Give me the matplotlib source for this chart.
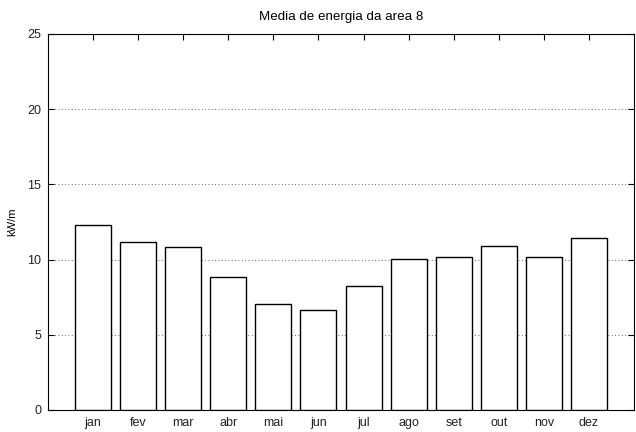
import matplotlib
matplotlib.use("Agg")
import matplotlib.pyplot as plt
import numpy as np

meses = ['jan', 'fev', 'mar', 'abr', 'mai', 'jun', 'jul', 'ago', 'set', 'out', 'nov', 'dez']
energia = [12.28, 11.15, 10.82, 8.86, 7.05, 6.65, 8.24, 10.04, 10.17, 10.88, 10.17, 11.41]
yticks = [0, 5, 10, 15, 20, 25]

plt.rcParams['font.family'] = ['Liberation Sans', 'DejaVu Sans']
plt.rcParams['font.size'] = 9

fig = plt.figure(figsize=(6.36, 4.32), dpi=100)
ax = fig.add_axes([48/636, 22/432, 586/636, 376/432])

x = np.arange(1, len(meses) + 1)
ax.bar(x, energia, width=0.8, color='white', edgecolor='black', linewidth=1.0, zorder=3)

ax.set_xlim(0, 13)
ax.set_ylim(0, 25)
ax.set_xticks(x)
ax.set_xticklabels(meses, color='#222222')
ax.set_yticks(yticks)
ax.tick_params(axis='y', labelcolor='#222222')
ax.yaxis.grid(True, linestyle=(0, (1, 3)), color='#333333', linewidth=0.6, zorder=0)
ax.tick_params(direction='in', length=4, top=True, right=True, width=0.8, pad=5)
for s in ax.spines.values():
    s.set_linewidth(0.8)

ax.set_ylabel('kW/m', fontsize=8, labelpad=7)
ax.set_title('Media de energia da area 8', fontsize=9.6, pad=10)

fig.savefig('out.png', dpi=100)
